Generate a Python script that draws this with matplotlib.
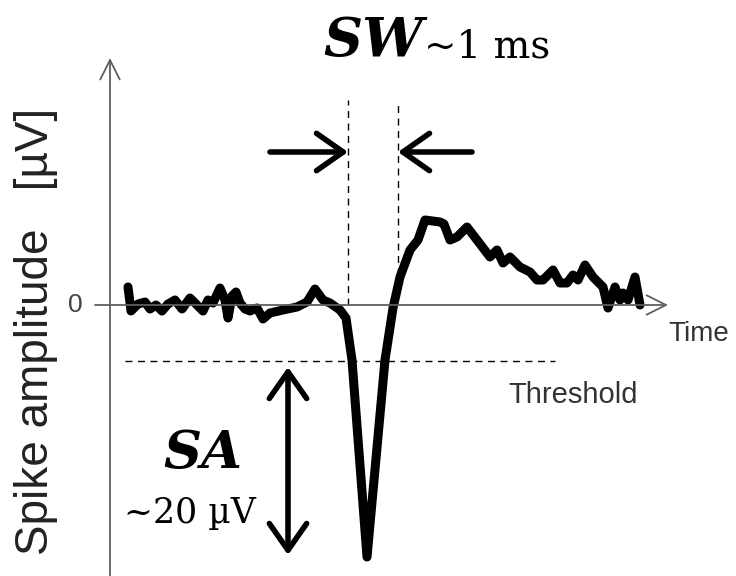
"""Schematic of an extracellular spike: spike width (SW) and spike amplitude (SA)."""

from __future__ import annotations

import matplotlib

matplotlib.use("Agg")

import matplotlib.pyplot as plt

# Trace: time in ms, amplitude in µV
time_ms = [
    0.36, 0.42, 0.56, 0.70, 0.80, 0.92, 1.04, 1.16, 1.30, 1.44, 1.60, 1.74, 1.86, 1.96,
    2.06, 2.20, 2.30, 2.36, 2.44, 2.52, 2.60, 2.70, 2.80, 2.94, 3.06, 3.20, 3.46, 3.74,
    3.94, 4.10, 4.26, 4.40, 4.60, 4.72, 4.84, 5.14, 5.50, 5.66, 5.80, 6.00, 6.16, 6.30,
    6.60, 6.68, 6.80, 6.94, 7.14, 7.34, 7.60, 7.74, 7.86, 8.00, 8.20, 8.40, 8.54, 8.66,
    8.86, 9.00, 9.14, 9.26, 9.36, 9.50, 9.66, 9.86, 9.96, 10.10, 10.20, 10.26, 10.36,
    10.50, 10.60,
]
amp_uv = [
    1.8, -0.6, 0.1, 0.3, -0.4, 0.0, -0.6, 0.1, 0.5, -0.4, 0.7, 0.0, -0.6, 0.5,
    0.2, 1.7, 0.5, -1.3, 0.9, 1.3, 0.2, -0.4, -0.6, -0.3, -1.4, -0.8, -0.5, -0.2,
    0.3, 1.6, 0.5, 0.2, -0.5, -1.3, -5.5, -25.2, -5.5, -0.3, 2.8, 5.5, 6.5, 8.5,
    8.3, 8.1, 6.5, 6.8, 7.8, 6.5, 4.8, 5.5, 4.2, 4.8, 3.8, 3.3, 2.5, 2.5,
    3.5, 2.2, 2.2, 3.0, 2.5, 4.0, 2.8, 1.8, -0.3, 1.8, 0.5, 1.2, 0.5,
    2.8, 0.0,
]

threshold_uv = -5.6
threshold_span = [0.3, 8.9]
sw_edges = [4.76, 5.76]          # dashed markers of the spike width
sw_tops = [20.5, 20.5]
sw_bottoms = [0.0, 3.0]
sw_arrow_y = 15.3
sw_arrow_tails = [3.2, 7.24]
sa_x = 3.56
sa_span = [-6.2, -25.0]

AXIS_GRAY = "#5f5f5f"


def draw_spike(out_path: str) -> None:
    fig = plt.figure(figsize=(7.36, 5.76), dpi=100)
    ax = fig.add_axes([0, 0, 1, 1])
    ax.set_xlim(-2.2, 12.52)
    ax.set_ylim(-27.1, 30.5)
    ax.axis("off")

    # axes drawn by hand with open arrow heads
    arrow_kw = dict(arrowstyle="->,head_length=0.7,head_width=0.35", color=AXIS_GRAY,
                    lw=1.3, shrinkA=0, shrinkB=0, mutation_scale=20)
    ax.annotate("", xy=(0, 24.7), xytext=(0, -27.1), arrowprops=arrow_kw)
    ax.annotate("", xy=(11.16, 0), xytext=(-0.3, 0), arrowprops=arrow_kw)

    sans = "Liberation Sans"
    ax.text(-0.7, 0, "0", ha="center", va="center", fontsize=19, color="#444444",
            family=sans)
    ax.text(-1.48, -2.6, "Spike amplitude   [µV]", rotation=90, ha="center", va="center",
            fontsize=33, color="#222222", family=sans)
    ax.text(11.16, -2.9, "Time", ha="left", va="center", fontsize=20, color="#333333",
            family=sans)
    ax.text(7.96, -9.0, "Threshold", ha="left", va="center", fontsize=21, color="#333333",
            family=sans)

    # threshold and spike-width markers
    ax.plot(threshold_span, [threshold_uv, threshold_uv], color="black", lw=1.0,
            dashes=(5, 4))
    for x, top, bot in zip(sw_edges, sw_tops, sw_bottoms):
        ax.plot([x, x], [bot, top], color="black", lw=1.0, dashes=(5, 4))

    ax.plot(time_ms, amp_uv, color="black", lw=6.5, solid_joinstyle="round",
            solid_capstyle="round")

    big_kw = dict(arrowstyle="->,head_length=0.6,head_width=0.42", color="black", lw=4,
                  shrinkA=0, shrinkB=0, mutation_scale=32)
    ax.annotate("", xy=(sw_edges[0], sw_arrow_y), xytext=(sw_arrow_tails[0], sw_arrow_y),
                arrowprops=big_kw)
    ax.annotate("", xy=(sw_edges[1], sw_arrow_y), xytext=(sw_arrow_tails[1], sw_arrow_y),
                arrowprops=big_kw)
    sa_kw = dict(big_kw, arrowstyle="<->,head_length=0.6,head_width=0.42")
    ax.annotate("", xy=(sa_x, sa_span[1]), xytext=(sa_x, sa_span[0]), arrowprops=sa_kw)

    serif = "DejaVu Serif"
    ax.text(6.26, 24.8, "SW", ha="right", va="baseline", fontsize=39, weight="bold",
            style="italic", family=serif)
    ax.text(6.28, 24.8, "~1 ms", ha="left", va="baseline", fontsize=28, family=serif)
    ax.text(1.86, -16.3, "SA", ha="center", va="baseline", fontsize=38, weight="bold",
            style="italic", family=serif)
    ax.text(1.60, -21.8, "~20 µV", ha="center", va="baseline", fontsize=25, family=serif)

    fig.savefig(out_path, dpi=100)
    plt.close(fig)


if __name__ == "__main__":
    draw_spike("out.png")
